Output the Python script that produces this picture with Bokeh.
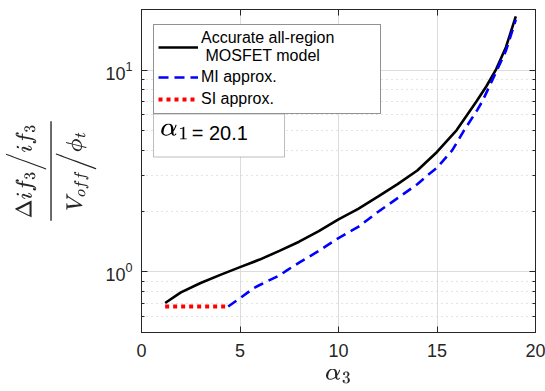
from bokeh.plotting import figure
from bokeh.models import (Range1d, FixedTicker, LinearAxis, LogAxis,
                          Legend, LegendItem, BoxAnnotation, Label, CustomJSTickFormatter,
                          LogTickFormatter)
from bokeh.embed import file_html
from bokeh.resources import INLINE

# ---- data ----
acc_x = [1.2, 2.0, 3.0, 4.0, 5.0, 6.0, 7.0, 8.0, 9.0, 10.0, 11.0, 12.0, 13.0, 14.0,
         15.0, 16.0, 17.0, 17.5, 18.0, 18.5, 19.0]
acc_y = [0.70, 0.79, 0.88, 0.966, 1.055, 1.15, 1.27, 1.41, 1.59, 1.82, 2.05, 2.36, 2.72,
         3.18, 3.93, 5.05, 7.0, 8.3, 10.1, 13.0, 18.5]
mi_x = [4.4, 5.0, 5.7, 6.0, 7.0, 7.4, 8.0, 9.0, 10.0, 11.0, 12.0, 13.0, 14.0, 14.5,
        15.0, 15.77, 16.36, 17.04, 17.3, 18.0, 18.5, 19.0]
mi_y = [0.673, 0.74, 0.83, 0.86, 0.96, 1.02, 1.11, 1.27, 1.47, 1.67, 1.98, 2.32, 2.72, 3.0,
        3.28, 4.0, 5.0, 6.34, 7.0, 9.8, 12.5, 17.8]
si_x = [1.2, 4.4]
si_y = [0.673, 0.673]
x_ticks = [0, 5, 10, 15, 20]
y_major_ticks = [1, 10]
y_minor_ticks = [0.5, 0.6, 0.7, 0.8, 0.9, 2, 3, 4, 5, 6, 7, 8, 9, 20]
legend_labels = ["Accurate all-region\n MOSFET model", "MI approx.", "SI approx."]
alpha1 = "20.1"

FONT = "Liberation Sans"
DARK = "#262626"

p = figure(frame_width=394, frame_height=323, output_backend="svg", toolbar_location=None,
           y_axis_type="log", x_range=Range1d(0, 20), y_range=Range1d(0.5, 20),
           min_border_left=141, min_border_right=10, min_border_top=9, min_border_bottom=59)
p.background_fill_color = "white"
p.border_fill_color = "white"
p.outline_line_color = DARK
p.outline_line_width = 1

yticker = FixedTicker(ticks=y_major_ticks, minor_ticks=y_minor_ticks)
xticker = FixedTicker(ticks=x_ticks, minor_ticks=[])

# axes
xa = p.xaxis[0]
xa.ticker = xticker
xa.axis_label = r"$$\alpha_3$$"
xa.axis_label_text_font_size = "21px"
xa.axis_label_standoff = 9
ya = p.yaxis[0]
ya.ticker = yticker
ya.formatter = LogTickFormatter()
ya.axis_label = r"$$\dfrac{\Delta if_3 \Big/ if_3}{V_{off} \Big/ \phi_t}$$"
ya.axis_label_text_font_size = "19px"
ya.axis_label_standoff = 6
for ax in (xa, ya):
    ax.major_label_text_font = FONT
    ax.major_label_text_font_size = "18px"
    ax.major_label_text_color = DARK
    ax.axis_line_color = DARK
    ax.major_tick_line_color = DARK
    ax.minor_tick_line_color = DARK
    ax.major_tick_in = 6
    ax.major_tick_out = 0
    ax.minor_tick_in = 3
    ax.minor_tick_out = 0
    ax.major_label_standoff = 9
    ax.axis_label_text_color = DARK
xa.minor_tick_line_color = None
xa.major_label_standoff = 11

blank = CustomJSTickFormatter(code="return ''")
top = LinearAxis(ticker=xticker, formatter=blank, major_label_standoff=0,
                 major_tick_in=6, major_tick_out=0, minor_tick_line_color=None,
                 axis_line_color=DARK, major_tick_line_color=DARK)
right = LogAxis(ticker=yticker, formatter=blank, major_label_standoff=0,
                major_tick_in=6, major_tick_out=0,
                minor_tick_in=3, minor_tick_out=0, axis_line_color=DARK,
                major_tick_line_color=DARK, minor_tick_line_color=DARK)
p.add_layout(top, "above")
p.add_layout(right, "right")

# grids
p.xgrid.ticker = xticker
p.ygrid.ticker = yticker
p.xgrid.grid_line_color = "#dcdcdc"
p.ygrid.grid_line_color = "#dcdcdc"
p.ygrid.minor_grid_line_color = "#c8c8c8"
p.ygrid.minor_grid_line_dash = "1 4"

# lines
r_acc = p.line(acc_x, acc_y, line_color="black", line_width=2.6)
r_mi = p.line(mi_x, mi_y, line_color="blue", line_width=2.6, line_dash="10 6")
r_si = p.line(si_x, si_y, line_color="red", line_width=4, line_dash="4 4")

legend = Legend(items=[LegendItem(label=legend_labels[0], renderers=[r_acc]),
                       LegendItem(label=legend_labels[1], renderers=[r_mi]),
                       LegendItem(label=legend_labels[2], renderers=[r_si])],
                location=(12, 218), orientation="vertical")
legend.label_text_font = FONT
legend.label_text_font_size = "16px"
legend.label_text_line_height = 1.3
legend.label_text_color = "black"
legend.glyph_width = 40
legend.glyph_height = 20
legend.label_standoff = 3
legend.spacing = 2
legend.padding = 4
legend.margin = 0
legend.border_line_color = DARK
legend.border_line_width = 1
legend.background_fill_color = "white"
legend.background_fill_alpha = 1
legend.label_width = 175
p.add_layout(legend, "center")

# alpha_1 annotation box (data coordinates)
p.add_layout(BoxAnnotation(left=0.61, right=7.26, bottom=3.71, top=6.06,
                           fill_color="white", fill_alpha=1, line_color=DARK, line_width=1))
p.add_layout(Label(x=0.95, y=4.72, text=r"$$\alpha_1$$", text_font_size="22px",
                   text_baseline="middle", text_color="black"))
p.add_layout(Label(x=2.55, y=4.9, text="= " + alpha1, text_font=FONT, text_font_size="20px",
                   text_baseline="middle", text_color="black"))

open("out.html", "w").write(file_html(p, INLINE))
